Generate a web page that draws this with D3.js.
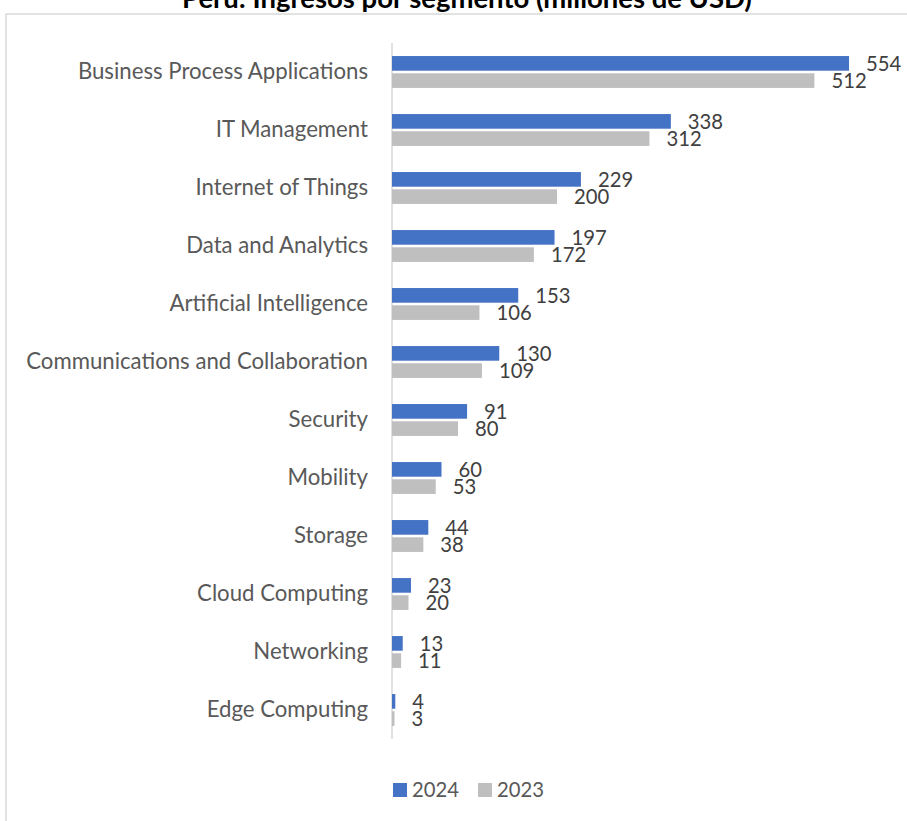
<!DOCTYPE html>
<html>
<head>
<meta charset="utf-8">
<script src="https://cdn.jsdelivr.net/npm/d3@7"></script>
<style>
  body { margin: 0; background: #fff; }
  svg { display: block; font-family: Lato, "Open Sans", sans-serif; }
</style>
</head>
<body>
<svg></svg>
<script>
// Data
const categories = [
  "Business Process Applications", "IT Management", "Internet of Things",
  "Data and Analytics", "Artificial Intelligence", "Communications and Collaboration",
  "Security", "Mobility", "Storage", "Cloud Computing", "Networking", "Edge Computing"
];
const seriesNames = ["2024", "2023"];
const values2024 = [554, 338, 229, 197, 153, 130, 91, 60, 44, 23, 13, 4];
const values2023 = [512, 312, 200, 172, 106, 109, 80, 53, 38, 20, 11, 3];
const titleText = "Perú: Ingresos por segmento (millones de USD)";

const colors = { "2024": "#4472C4", "2023": "#BFBFBF" };

const width = 907, height = 821;
const svg = d3.select("svg").attr("width", width).attr("height", height);

// Chart frame (clipped by the window on the right and bottom)
svg.append("rect")
  .attr("x", 6).attr("y", 14)
  .attr("width", 960).attr("height", 900)
  .attr("fill", "none")
  .attr("stroke", "#d9d9d9")
  .attr("stroke-width", 1.5);

// fit a font size so that a text gets a given width
function fitSize(text, target, weight) {
  const t = svg.append("text").attr("font-size", 20).attr("font-weight", weight || "normal").text(text);
  const w = t.node().getComputedTextLength();
  t.remove();
  return 20 * target / w;
}
const labelSize = fitSize("Communications and Collaboration", 342);
const numberSize = fitSize("2024", 47);
const titleSize = fitSize(titleText, 570, "bold");

// Title
svg.append("text")
  .attr("x", 467).attr("y", 8)
  .attr("text-anchor", "middle")
  .attr("font-size", titleSize)
  .attr("font-weight", "bold")
  .attr("fill", "#000")
  .text(titleText);

// Scales
const x = d3.scaleLinear().domain([0, 600]).range([392, 887]);
const y = d3.scaleBand()
  .domain(categories)
  .range([43, 739])
  .paddingInner(0.45)
  .paddingOuter(0.225);
const ySub = d3.scaleBand()
  .domain(seriesNames)
  .range([0, y.bandwidth()])
  .paddingInner(0.15);

const rows = categories.map((c, i) => ({
  cat: c,
  vals: [
    { key: "2024", v: values2024[i] },
    { key: "2023", v: values2023[i] }
  ]
}));

// Category axis
const yAxis = svg.append("g")
  .attr("transform", `translate(${x(0)},0)`)
  .call(d3.axisLeft(y).tickSize(0).tickPadding(24));
yAxis.select(".domain")
  .attr("stroke", "#d9d9d9")
  .attr("stroke-width", 1.5)
  .attr("d", `M0,43V739`);
yAxis.selectAll("text")
  .attr("font-size", labelSize)
  .attr("font-family", "Lato, 'Open Sans', sans-serif")
  .attr("fill", "#595959");

// Bars
const groups = svg.selectAll(".cat")
  .data(rows)
  .enter()
  .append("g")
  .attr("class", "cat")
  .attr("transform", (d) => `translate(0,${y(d.cat)})`);

groups.selectAll("rect")
  .data((d) => d.vals)
  .enter()
  .append("rect")
  .attr("x", x(0))
  .attr("y", (d) => ySub(d.key))
  .attr("width", (d) => x(d.v) - x(0))
  .attr("height", ySub.bandwidth())
  .attr("fill", (d) => colors[d.key]);

// Value labels
groups.selectAll(".val")
  .data((d) => d.vals)
  .enter()
  .append("text")
  .attr("class", "val")
  .attr("x", (d) => x(d.v) + 17)
  .attr("y", (d) => ySub(d.key) + ySub.bandwidth() / 2)
  .attr("dy", "0.36em")
  .attr("font-size", numberSize)
  .attr("fill", "#404040")
  .text((d) => d.v);

// Legend
const legend = svg.append("g").attr("transform", "translate(393,783)");
const legendX = [0, 85];
seriesNames.forEach((s, i) => {
  const g = legend.append("g").attr("transform", `translate(${legendX[i]},0)`);
  g.append("rect").attr("width", 14).attr("height", 14).attr("fill", colors[s]);
  g.append("text")
    .attr("x", 19).attr("y", 7).attr("dy", "0.36em")
    .attr("font-size", numberSize)
    .attr("fill", "#595959")
    .text(s);
});
</script>
</body>
</html>
